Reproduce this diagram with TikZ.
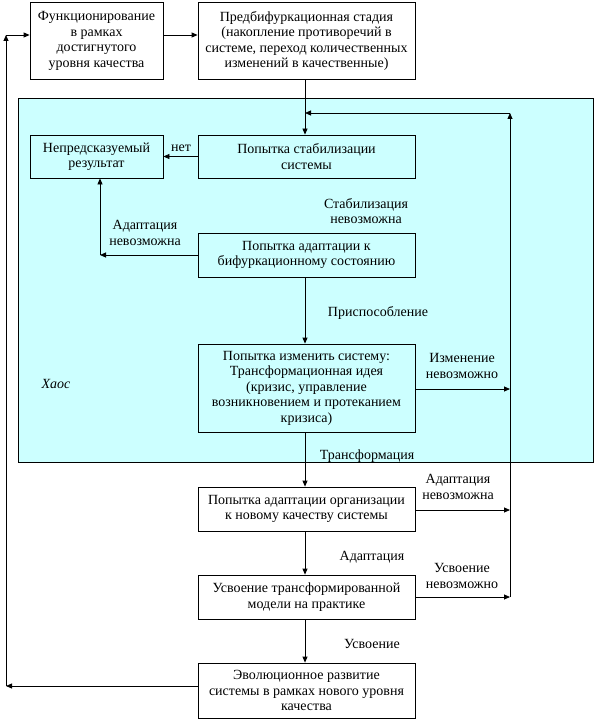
\documentclass[tikz,border=0pt]{standalone}
\usepackage{fontspec}
\setmainfont{Liberation Serif}
\usetikzlibrary{arrows.meta}
\definecolor{chaoscyan}{RGB}{204,255,255}
\begin{document}
\begin{tikzpicture}[x=1pt,y=-1pt]
      \tikzset{
        every node/.style={font=\fontsize{14}{15.5}\selectfont,inner sep=0pt},
        stage/.style={draw,thick,align=center,minimum width=217pt},
        narrow/.style={stage,minimum width=133pt},
        lbl/.style={align=center},
        arr/.style={thick,-{Triangle[length=6pt,width=5pt]}}
      }
      \useasboundingbox (0,0) rectangle (595,722);

      % region of chaos
      \draw[thick,fill=chaoscyan] (18,98) rectangle (593,462);
      \node[font=\fontsize{14}{15.5}\selectfont\itshape] (chaos) at (56,384) {Хаос};

      \node[narrow,minimum height=77pt] (func) at (96.5,41)
        {Функционирование\\в рамках\\достигнутого\\уровня качества};
      \node[stage,minimum height=77pt] (prebif) at (306.5,41)
        {Предбифуркационная стадия\\(накопление противоречий в\\системе, переход количественных\\изменений в качественные)};
      \node[narrow,minimum height=43pt] (unpred) at (96.5,156.5)
        {Непредсказуемый\\результат};
      \node[stage,minimum height=43pt] (stab) at (306.5,156.5)
        {Попытка стабилизации\\системы};
      \node[stage,minimum height=44pt] (adapt) at (306.5,255)
        {Попытка адаптации к\\бифуркационному состоянию};
      \node[stage,minimum height=88pt] (change) at (306.5,388)
        {Попытка изменить систему:\\Трансформационная идея\\(кризис, управление\\возникновением и протеканием\\кризиса)};
      \node[stage,minimum height=44pt] (orgad) at (306.5,509)
        {Попытка адаптации организации\\к новому качеству системы};
      \node[stage,minimum height=44pt] (learn) at (306.5,597)
        {Усвоение трансформированной\\модели на практике};
      \node[stage,minimum height=55pt] (evol) at (306.5,690.5)
        {Эволюционное развитие\\системы в рамках нового уровня\\качества};

      % labels
      \node[lbl] (no) at (181,148) {нет};
      \node[lbl] (stabno) at (366,211) {Стабилизация\\невозможна};
      \node[lbl] (adaptno) at (145,233) {Адаптация\\невозможна};
      \node[lbl] (fit) at (378,313) {Приспособление};
      \node[lbl] (changeno) at (462,366) {Изменение\\невозможно};
      \node[lbl] (transf) at (367,456) {Трансформация};
      \node[lbl] (orgadno) at (458,487) {Адаптация\\невозможна};
      \node[lbl] (adapted) at (372,557) {Адаптация};
      \node[lbl] (learnno) at (462,576) {Усвоение\\невозможно};
      \node[lbl] (learned) at (372,644) {Усвоение};

      % junctions
      \coordinate (jn) at (305,113);
      \coordinate (rtop) at (510,113);
      \coordinate (r6) at (510,389);
      \coordinate (r7) at (510,510);
      \coordinate (r8) at (510,597);
      \coordinate (a5) at (100,255);
      \coordinate (lbot) at (6,686);
      \coordinate (ltop) at (6,35);

      \draw[arr] (func.east |- 0,35) -- (prebif.west |- 0,35);
      \draw[arr] (prebif.south -| 305,0) -- (stab.north -| 305,0);
      \draw[arr] (stab.west) -- (unpred.east);
      \draw[arr] (adapt.west) -- (a5);
      \draw[arr] (a5) -- (unpred.south -| a5);
      \draw[arr] (adapt.south -| 305,0) -- (change.north -| 305,0);
      \draw[arr] (change.south -| 305,0) -- (orgad.north -| 305,0);
      \draw[arr] (orgad.south -| 305,0) -- (learn.north -| 305,0);
      \draw[arr] (learn.south -| 305,0) -- (evol.north -| 305,0);
      \draw[arr] (change.east |- r6) -- (r6);
      \draw[arr] (orgad.east |- r7) -- (r7);
      \draw[arr] (learn.east |- r8) -- (r8);
      \draw[arr] (r8) -- (rtop);
      \draw[arr] (rtop) -- (jn);
      \draw[arr] (evol.west |- lbot) -- (lbot);
      \draw[arr] (lbot) -- (ltop);
      \draw[arr] (ltop) -- (func.west |- ltop);
    \end{tikzpicture}
\end{document}
